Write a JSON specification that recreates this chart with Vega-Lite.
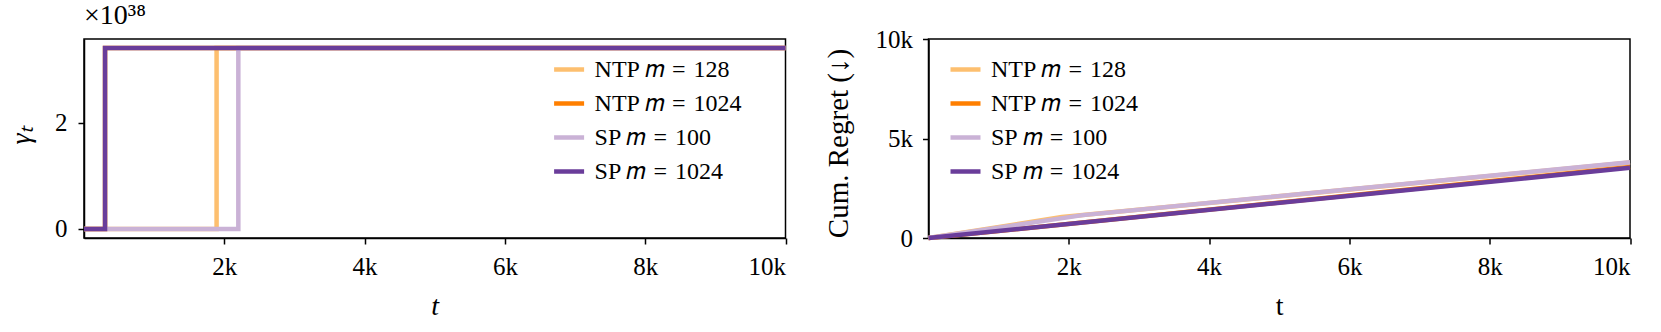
{
  "$schema": "https://vega.github.io/schema/vega-lite/v6.json",
  "background": "white",
  "padding": {"left": 6, "top": 1, "right": 14, "bottom": 18},
  "bounds": "flush",
  "spacing": 142.5,
  "config": {
    "font": "Liberation Serif",
    "view": {"stroke": "black", "strokeWidth": 1.5},
    "axis": {
      "grid": false,
      "domainColor": "black",
      "domainWidth": 1.5,
      "tickColor": "black",
      "tickWidth": 1.5,
      "tickSize": 6,
      "labelFont": "Liberation Serif",
      "labelFontSize": 25,
      "labelColor": "black",
      "titleFont": "Liberation Serif",
      "titleColor": "black",
      "titleFontWeight": "normal"
    },
    "legend": {
      "labelFont": "Liberation Serif",
      "labelFontSize": 24,
      "labelColor": "black",
      "symbolType": "stroke",
      "symbolSize": 900,
      "symbolStrokeWidth": 4.5,
      "symbolOpacity": 1,
      "labelOffset": 8,
      "rowPadding": 4,
      "padding": 0
    }
  },
  "datasets": {
    "gamma": [
      {"series": "NTP 𝑚\u2004=\u2004128", "t": 0, "g": 0},
      {"series": "NTP 𝑚\u2004=\u2004128", "t": 1890, "g": 3.4028},
      {"series": "NTP 𝑚\u2004=\u2004128", "t": 10000, "g": 3.4028},
      {"series": "NTP 𝑚\u2004=\u20041024", "t": 0, "g": 0},
      {"series": "NTP 𝑚\u2004=\u20041024", "t": 300, "g": 3.4028},
      {"series": "NTP 𝑚\u2004=\u20041024", "t": 10000, "g": 3.4028},
      {"series": "SP 𝑚\u2004=\u2004100", "t": 0, "g": 0},
      {"series": "SP 𝑚\u2004=\u2004100", "t": 2200, "g": 3.4028},
      {"series": "SP 𝑚\u2004=\u2004100", "t": 10000, "g": 3.4028},
      {"series": "SP 𝑚\u2004=\u20041024", "t": 0, "g": 0},
      {"series": "SP 𝑚\u2004=\u20041024", "t": 300, "g": 3.4028},
      {"series": "SP 𝑚\u2004=\u20041024", "t": 10000, "g": 3.4028}
    ],
    "regret": [
      {"series": "NTP 𝑚\u2004=\u2004128", "t": 0, "r": 0},
      {"series": "NTP 𝑚\u2004=\u2004128", "t": 1900, "r": 1050},
      {"series": "NTP 𝑚\u2004=\u2004128", "t": 10000, "r": 3790},
      {"series": "NTP 𝑚\u2004=\u20041024", "t": 0, "r": 0},
      {"series": "NTP 𝑚\u2004=\u20041024", "t": 10000, "r": 3570},
      {"series": "SP 𝑚\u2004=\u2004100", "t": 0, "r": 0},
      {"series": "SP 𝑚\u2004=\u2004100", "t": 2200, "r": 1150},
      {"series": "SP 𝑚\u2004=\u2004100", "t": 10000, "r": 3810},
      {"series": "SP 𝑚\u2004=\u20041024", "t": 0, "r": 0},
      {"series": "SP 𝑚\u2004=\u20041024", "t": 10000, "r": 3530}
    ]
  },
  "hconcat": [
    {
      "width": 701.5,
      "height": 199,
      "data": {"name": "gamma"},
      "title": {"text": "×10³⁸", "anchor": "start", "frame": "group", "fontSize": 28, "fontWeight": "normal", "offset": 9, "font": "Liberation Serif", "color": "black"},
      "mark": {"type": "line", "interpolate": "step-after", "strokeWidth": 4.5},
      "encoding": {
        "x": {
          "field": "t", "type": "quantitative",
          "scale": {"domain": [0, 10000], "nice": false},
          "axis": {"values": [2000, 4000, 6000, 8000, 10000], "labelExpr": "datum.value / 1000 + 'k'", "labelBaseline": "alphabetic", "labelPadding": 30, "title": "t", "titleFontStyle": "italic", "titleFontSize": 28, "titleBaseline": "alphabetic", "titleX": 350.75, "titleY": 76}
        },
        "y": {
          "field": "g", "type": "quantitative",
          "scale": {"domain": [-0.17, 3.573], "nice": false, "zero": false},
          "axis": {"values": [0, 2], "labelPadding": 11, "labelBaseline": "middle", "title": "γₜ", "titleFontStyle": "italic", "titleFontSize": 28, "titleAngle": -90, "titleAlign": "center", "titleBaseline": "middle", "titleX": -63, "titleY": 96}
        },
        "color": {
          "field": "series", "type": "nominal",
          "scale": {"domain": ["NTP 𝑚\u2004=\u2004128", "NTP 𝑚\u2004=\u20041024", "SP 𝑚\u2004=\u2004100", "SP 𝑚\u2004=\u20041024"], "range": ["#fdbf6f", "#ff7f00", "#cab2d6", "#6a3d9a"]},
          "legend": {"orient": "none", "legendX": 467.6, "legendY": 13, "title": null}
        }
      }
    },
    {
      "width": 701.5,
      "height": 199,
      "data": {"name": "regret"},
      "mark": {"type": "line", "strokeWidth": 4.5},
      "encoding": {
        "x": {
          "field": "t", "type": "quantitative",
          "scale": {"domain": [0, 10000], "nice": false},
          "axis": {"values": [2000, 4000, 6000, 8000, 10000], "labelExpr": "datum.value / 1000 + 'k'", "labelBaseline": "alphabetic", "labelPadding": 30, "title": "t", "titleFontSize": 28, "titleBaseline": "alphabetic", "titleX": 350.75, "titleY": 76}
        },
        "y": {
          "field": "r", "type": "quantitative",
          "scale": {"domain": [0, 10000], "nice": false},
          "axis": {"values": [0, 5000, 10000], "labelExpr": "datum.value == 0 ? '0' : datum.value / 1000 + 'k'", "labelPadding": 10, "labelBaseline": "middle", "title": "Cum. Regret (↓)", "titleFontSize": 29, "titleAngle": -90, "titleAlign": "center", "titleBaseline": "middle", "titleX": -90, "titleY": 104}
        },
        "color": {
          "field": "series", "type": "nominal",
          "scale": {"domain": ["NTP 𝑚\u2004=\u2004128", "NTP 𝑚\u2004=\u20041024", "SP 𝑚\u2004=\u2004100", "SP 𝑚\u2004=\u20041024"], "range": ["#fdbf6f", "#ff7f00", "#cab2d6", "#6a3d9a"]},
          "legend": {"orient": "none", "legendX": 19.5, "legendY": 13, "title": null}
        }
      }
    }
  ],
  "resolve": {"legend": {"color": "independent"}, "scale": {"color": "independent"}}
}
